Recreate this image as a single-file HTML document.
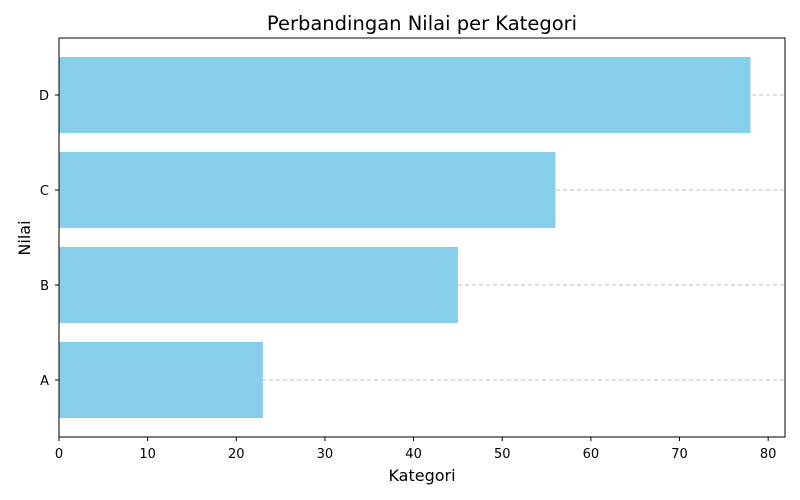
<!DOCTYPE html>
<html><head><meta charset="utf-8"><style>
body{margin:0;background:#fff;}
svg{display:block;font-family:"DejaVu Sans","Liberation Sans",sans-serif;}
</style></head><body>
<svg id="chart" width="800" height="500">
<text x="422" y="30" text-anchor="middle" font-size="19.5">Perbandingan Nilai per Kategori</text>
<g id="grid"></g><g id="bars"></g><g id="axes"></g>
<text x="422" y="481" text-anchor="middle" font-size="16">Kategori</text>
<text x="30" y="238" text-anchor="middle" font-size="16" transform="rotate(-90 30 238)">Nilai</text>
</svg>
<script>
const categories=["A","B","C","D"];
const values=[23,45,56,78];
const xTicks=[0,10,20,30,40,50,60,70,80];
const L=59,R=785,T=38,B=437,xMax=81.9;
const NS="http://www.w3.org/2000/svg";
const sx=v=>L+v/xMax*(R-L);
const sy=i=>B-(i+0.6)/4.2*(B-T);
function mk(tag,attrs,parent,text){const e=document.createElementNS(NS,tag);for(const k in attrs)e.setAttribute(k,attrs[k]);if(text!==undefined)e.textContent=text;document.getElementById(parent).appendChild(e);return e;}
categories.forEach((c,i)=>{
 const g=mk("line",{x1:L,x2:R,y1:sy(i),y2:sy(i),stroke:"#c0c0c0","stroke-dasharray":"4,3","stroke-width":1},"grid");
 
 
 const h=0.8/4.2*(B-T);
 const b=mk("rect",{x:L,y:sy(i)-h/2,width:sx(values[i])-L,height:h,fill:"#87ceeb"},"bars");
 
 
 const t=mk("line",{x1:L-4,x2:L,y1:sy(i),y2:sy(i),stroke:"#000"},"axes");
 
 
 const l=mk("text",{x:L-10,y:sy(i)+5,"text-anchor":"end","font-size":13},"axes",c);
 
 
});
xTicks.forEach(v=>{
 const t=mk("line",{x1:sx(v),x2:sx(v),y1:B,y2:B+4,stroke:"#000"},"axes");
 
 
 const l=mk("text",{x:sx(v),y:B+21,"text-anchor":"middle","font-size":13},"axes",v);
 
 
});
const f=mk("rect",{x:L,y:T,width:R-L,height:B-T,fill:"none",stroke:"#000","stroke-width":1},"axes");


</script>
</body></html>
